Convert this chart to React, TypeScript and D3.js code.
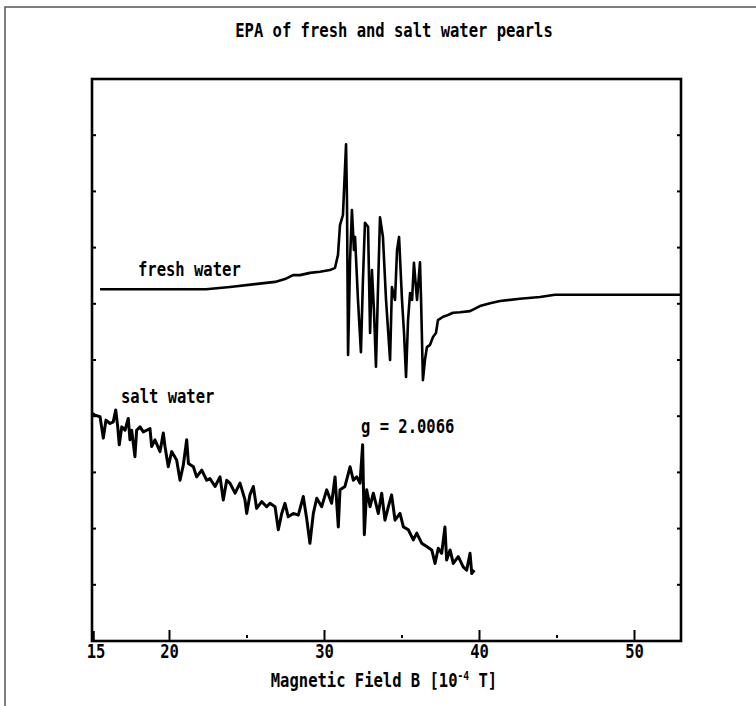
import { scaleLinear, line } from 'd3';

const W = 756;
const H = 706;
const FRAME = { left: 92, right: 681, top: 79, bottom: 641 };
const FONT = '"DejaVu Sans Mono", "Liberation Mono", monospace';

const TITLE = 'EPA of fresh and salt water pearls';
const X_MAJOR = [20, 30, 40, 50];
const X_MINOR = [25, 35, 45];
const X_LABELS = [15, 20, 30, 40, 50];

// fresh water trace (field in 10^-4 T, signal in arb. units)
const freshField = [
  15.52, 22.35, 23.9, 25.52, 26.81, 27.45, 27.97, 28.42, 29.06, 29.71, 30.35, 30.68, 30.87, 31.0,
  31.19, 31.39, 31.45, 31.52, 31.65, 31.77, 31.9, 31.97, 32.16, 32.35, 32.48, 32.61, 32.81, 32.94,
  33.06, 33.19, 33.32, 33.45, 33.58, 33.77, 33.97, 34.23, 34.35, 34.55, 34.68, 34.81, 35.0, 35.13,
  35.26, 35.39, 35.52, 35.65, 35.77, 35.97, 36.16, 36.23, 36.35, 36.48, 36.61, 36.81, 37.0, 37.19,
  37.32, 37.65, 37.97, 38.29, 38.74, 39.39, 40.03, 40.68, 41.32, 42.61, 43.9, 44.87, 53.0,
];
const freshSignal = [
  6.26, 6.26, 6.3, 6.35, 6.39, 6.44, 6.51, 6.51, 6.55, 6.57, 6.6, 6.64, 6.87, 7.4,
  7.58, 8.84, 7.84, 5.09, 6.78, 7.67, 6.96, 7.19, 6.07, 5.14, 6.42, 7.44, 7.37, 5.48,
  6.6, 5.89, 4.88, 6.25, 7.54, 7.19, 6.07, 5.0, 6.3, 6.07, 6.96, 7.19, 6.07, 5.48,
  4.7, 5.71, 6.19, 6.07, 6.73, 6.07, 6.74, 6.07, 4.64, 5.0, 5.23, 5.27, 5.41, 5.48,
  5.71, 5.77, 5.8, 5.84, 5.85, 5.87, 5.96, 6.01, 6.05, 6.09, 6.12, 6.16, 6.16,
];

// salt water trace
const saltField = [
  15.0, 15.19, 15.52, 15.73, 15.9, 16.16, 16.37, 16.53, 16.66, 16.76, 16.92, 17.13, 17.34, 17.45,
  17.56, 17.77, 17.88, 18.1, 18.31, 18.53, 18.74, 18.85, 19.06, 19.39, 19.6, 19.71, 19.92, 20.14,
  20.46, 20.68, 20.89, 21.11, 21.22, 21.54, 21.75, 22.08, 22.4, 22.61, 22.94, 23.26, 23.47, 23.69,
  23.9, 24.23, 24.55, 24.87, 24.98, 25.19, 25.41, 25.62, 25.95, 26.27, 26.48, 26.81, 27.02, 27.24,
  27.45, 27.66, 27.99, 28.31, 28.63, 28.85, 29.06, 29.28, 29.5, 29.82, 30.14, 30.46, 30.68, 30.89,
  31.0, 31.32, 31.65, 31.86, 32.08, 32.29, 32.46, 32.57, 32.72, 32.94, 33.15, 33.47, 33.69, 33.9,
  34.12, 34.33, 34.55, 34.87, 35.09, 35.41, 35.73, 35.95, 36.27, 36.59, 36.92, 37.13, 37.34, 37.56,
  37.77, 37.88, 38.1, 38.31, 38.63, 38.95, 39.17, 39.39, 39.5, 39.67,
];
const saltSignal = [
  4.05, 4.02, 3.99, 3.61, 3.93, 3.87, 3.9, 4.11, 3.81, 3.49, 3.81, 3.75, 3.96, 3.58,
  3.75, 3.28, 3.75, 3.81, 3.72, 3.75, 3.78, 3.46, 3.58, 3.37, 3.7, 3.46, 3.1, 3.37,
  3.22, 2.86, 3.13, 3.58, 3.16, 3.1, 2.92, 3.04, 2.86, 2.89, 2.75, 2.92, 2.51, 2.86,
  2.81, 2.63, 2.81, 2.51, 2.27, 2.6, 2.75, 2.36, 2.48, 2.39, 2.45, 2.39, 1.98, 2.27,
  2.45, 2.21, 2.27, 2.24, 2.57, 2.18, 1.74, 2.27, 2.54, 2.39, 2.69, 2.45, 2.92, 2.03,
  2.69, 2.75, 3.1, 2.86, 2.92, 2.81, 3.49, 1.89, 2.69, 2.39, 2.63, 2.27, 2.63, 2.15,
  2.39, 2.6, 2.15, 2.27, 2.03, 1.98, 1.8, 1.92, 1.74, 1.68, 1.62, 1.38, 1.65, 1.56,
  2.03, 1.44, 1.62, 1.38, 1.5, 1.32, 1.26, 1.56, 1.2, 1.26,
];

// tall, narrow bold text like the plotter font
function Label({ x, y, anchor = 'start', children }: { x: number; y: number; anchor?: string; children: any }) {
  return (
    <text
      transform={`translate(${x},${y}) scale(0.97,1.25)`}
      textAnchor={anchor}
      fontFamily={FONT}
      fontWeight={700}
      fontSize={16}
      fill="#000"
    >
      {children}
    </text>
  );
}

export default function App() {
  const x = scaleLinear().domain([15, 53]).range([FRAME.left, FRAME.right]);
  const y = scaleLinear().domain([0, 10]).range([FRAME.bottom, FRAME.top]);
  const yTicks = y.ticks(10).filter((t) => t > 0 && t < 10);

  const mk = (fx: number[], sy: number[]) =>
    line<number>()
      .x((d) => x(d))
      .y((_, i) => y(sy[i]))(fx) || '';

  return (
    <svg
      width={W}
      height={H}
      viewBox={`0 0 ${W} ${H}`}
      style={{ position: 'absolute', left: 0, top: 0, background: '#fff' }}
    >
      <rect x={0} y={0} width={W} height={H} fill="#fff" />
      {/* outer page frame, cut by the image edge */}
      <rect x={5} y={7} width={W + 20} height={H + 20} fill="none" stroke="#555" strokeWidth={1.5} />

      <Label x={394} y={37} anchor="middle">{TITLE}</Label>

      {/* traces */}
      <path d={mk(freshField, freshSignal)} fill="none" stroke="#000" strokeWidth={2.6} strokeLinejoin="round" />
      <path d={mk(saltField, saltSignal)} fill="none" stroke="#000" strokeWidth={3} strokeLinejoin="round" />

      {/* plot frame */}
      <rect
        x={FRAME.left}
        y={FRAME.top}
        width={FRAME.right - FRAME.left}
        height={FRAME.bottom - FRAME.top}
        fill="none"
        stroke="#000"
        strokeWidth={2.6}
      />

      {yTicks.map((t) => (
        <g key={t}>
          <line x1={FRAME.left} x2={FRAME.left + 4} y1={y(t)} y2={y(t)} stroke="#000" strokeWidth={2} />
          <line x1={FRAME.right - 4} x2={FRAME.right} y1={y(t)} y2={y(t)} stroke="#000" strokeWidth={2} />
        </g>
      ))}

      {X_MAJOR.map((t) => (
        <line key={t} x1={x(t)} x2={x(t)} y1={FRAME.bottom} y2={FRAME.bottom - 11} stroke="#000" strokeWidth={2} />
      ))}
      {X_MINOR.map((t) => (
        <line key={t} x1={x(t)} x2={x(t)} y1={FRAME.bottom - 3} y2={FRAME.bottom - 6} stroke="#000" strokeWidth={2} />
      ))}
      <line x1={x(15) + 1} x2={x(15) + 1} y1={FRAME.bottom} y2={FRAME.bottom - 10} stroke="#000" strokeWidth={3.5} />

      {X_LABELS.map((t) => (
        <Label key={t} x={x(t) + (t === 15 ? 4 : 0)} y={658} anchor="middle">
          {t}
        </Label>
      ))}

      <Label x={384} y={687} anchor="middle">
        Magnetic Field B [10
        <tspan fontSize={10} dy={-6}>-4</tspan>
        <tspan dy={6}> T]</tspan>
      </Label>

      <Label x={138} y={276}>fresh water</Label>
      <Label x={121} y={403}>salt water</Label>
      <Label x={361} y={433}>g = 2.0066</Label>
    </svg>
  );
}
